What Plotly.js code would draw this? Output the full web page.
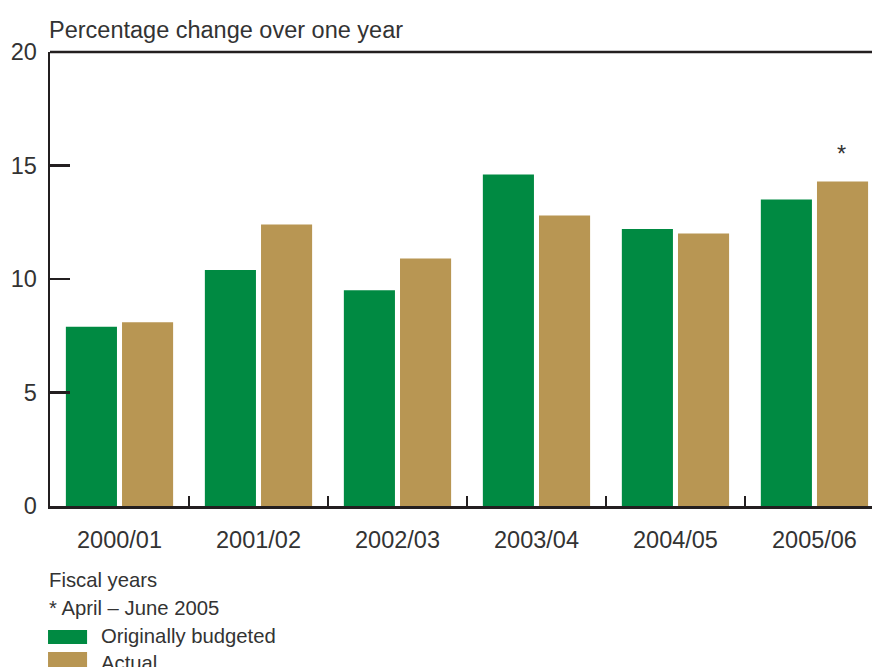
<!DOCTYPE html>
<html>
<head>
<meta charset="utf-8">
<script src="https://cdn.plot.ly/plotly-3.0.1.min.js"></script>
<style>html,body{margin:0;padding:0;background:#fff;overflow:hidden;}</style>
</head>
<body>
<div id="chart" style="width:872px;height:667px;"></div>
<script>
const categories = ["2000/01", "2001/02", "2002/03", "2003/04", "2004/05", "2005/06"];
const budgeted = [7.9, 10.4, 9.5, 14.6, 12.2, 13.5];
const actual = [8.1, 12.4, 10.9, 12.8, 12.0, 14.3];
const seriesNames = ["Originally budgeted", "Actual"];
const yTicks = [0, 5, 10, 15, 20];
const titleText = "Percentage change over one year";
const xTitleText = "Fiscal years";
const noteText = "* April \u2013 June 2005";
const noteCategory = "2005/06";
const noteValue = actual[5];

const green = "#008a42";
const gold = "#b89653";
const ink = "#231f20";
const textCol = "#333333";
const FONT = "Liberation Sans, Arial, sans-serif";
const FS = 23.5;
const LFS = 20.3;

const traces = [
  {type: "bar", x: categories, y: budgeted, name: seriesNames[0], marker: {color: green}, hoverinfo: "skip"},
  {type: "bar", x: categories, y: actual, name: seriesNames[1], marker: {color: gold}, hoverinfo: "skip"}
];

const layout = {
  width: 872, height: 667,
  margin: {l: 50, r: 0, t: 52, b: 161},
  paper_bgcolor: "#fff", plot_bgcolor: "#fff",
  font: {family: FONT, size: FS, color: textCol},
  showlegend: false,
  barmode: "group",
  bargap: 0.192,
  bargroupgap: 0.09,
  xaxis: {
    type: "category",
    range: [-0.5, 5.414],
    showgrid: false, zeroline: false,
    showline: true, linecolor: ink, linewidth: 2.5,
    ticks: "inside", tickson: "boundaries", ticklen: 10, tickwidth: 2, tickcolor: ink,
    ticklabelstandoff: 11,
    tickfont: {family: FONT, size: FS, color: textCol},
    fixedrange: true
  },
  yaxis: {
    range: [0, 20],
    tickvals: yTicks,
    ticktext: yTicks.map(String),
    showgrid: false, zeroline: false,
    showline: true, linecolor: ink, linewidth: 2.5,
    ticks: "inside", ticklen: 20, tickwidth: 2.5, tickcolor: ink,
    ticklabelstandoff: 6,
    tickfont: {family: FONT, size: FS, color: textCol},
    fixedrange: true
  },
  shapes: [
    {type: "line", xref: "paper", yref: "paper", x0: 0, x1: 1, y0: 1, y1: 1, line: {color: ink, width: 2.5}},
    {type: "rect", xref: "paper", yref: "paper", x0: -0.0024, x1: 0.0451, y0: -0.273, y1: -0.304, fillcolor: green, line: {width: 0}},
    {type: "rect", xref: "paper", yref: "paper", x0: -0.0024, x1: 0.0451, y0: -0.3216, y1: -0.40, fillcolor: gold, line: {width: 0}}
  ],
  annotations: [
    {text: titleText, xref: "paper", yref: "paper", x: 0, y: 1, xanchor: "left", yanchor: "bottom", xshift: -3, yshift: 7, showarrow: false,
     font: {family: FONT, size: FS, color: textCol}},
    {text: "*", xref: "x", yref: "y", x: noteCategory, y: noteValue, xshift: 27, yanchor: "bottom", yshift: 12, showarrow: false,
     font: {family: FONT, size: FS, color: textCol}},
    {text: xTitleText, xref: "paper", yref: "paper", x: 0, y: -0.163, xanchor: "left", yanchor: "middle", xshift: -3, showarrow: false,
     font: {family: FONT, size: LFS, color: textCol}},
    {text: noteText, xref: "paper", yref: "paper", x: 0, y: -0.224, xanchor: "left", yanchor: "middle", xshift: -3, showarrow: false,
     font: {family: FONT, size: LFS, color: textCol}},
    {text: seriesNames[0], xref: "paper", yref: "paper", x: 0.0632, y: -0.286, xanchor: "left", yanchor: "middle", xshift: -3, showarrow: false,
     font: {family: FONT, size: LFS, color: textCol}},
    {text: seriesNames[1], xref: "paper", yref: "paper", x: 0.0632, y: -0.346, xanchor: "left", yanchor: "middle", xshift: -3, showarrow: false,
     font: {family: FONT, size: LFS, color: textCol}}
  ]
};

Plotly.newPlot("chart", traces, layout, {displayModeBar: false, staticPlot: true});
</script>
</body>
</html>
